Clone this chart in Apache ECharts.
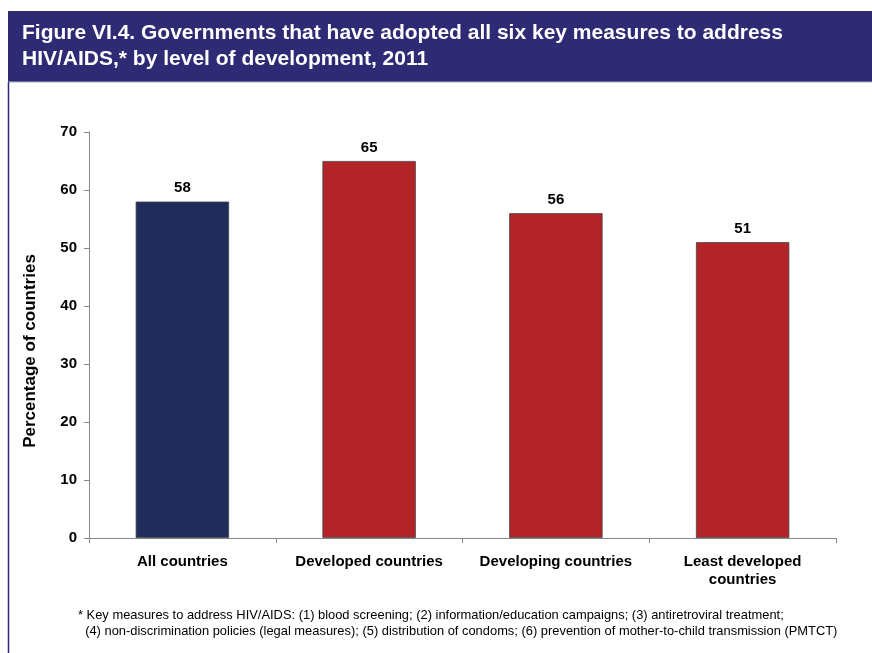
<!DOCTYPE html>
<html>
<head>
<meta charset="utf-8">
<script src="https://cdn.jsdelivr.net/npm/echarts@6/dist/echarts.min.js"></script>
<style>
  html, body { margin: 0; padding: 0; background: #fff; }
  #chart { width: 872px; height: 653px; }
</style>
</head>
<body>
<div id="chart"></div>
<script>
// Categories and shares of governments adopting all six measures (%)
const categories = ['All countries', 'Developed countries', 'Developing countries', 'Least developed\ncountries'];
const values = [58, 65, 56, 51];
const barColors = ['#202C5C', '#B32428', '#B32428', '#B32428'];
const yTicks = { min: 0, max: 70, interval: 10 };

const titleText = 'Figure VI.4. Governments that have adopted all six key measures to address\nHIV/AIDS,* by level of development, 2011';
const yAxisTitle = 'Percentage of countries';
const noteText = '* Key measures to address HIV/AIDS: (1) blood screening; (2) information/education campaigns; (3) antiretroviral treatment;\n  (4) non-discrimination policies (legal measures); (5) distribution of condoms; (6) prevention of mother-to-child transmission (PMTCT)';

const FONT = '"Liberation Sans", Arial, sans-serif';

const chart = echarts.init(document.getElementById('chart'), null, { renderer: 'canvas' });
chart.setOption({
  animation: false,
  backgroundColor: '#ffffff',
  graphic: [
    // navy header band
    { type: 'rect', shape: { x: 8, y: 11, width: 870, height: 71 }, style: { fill: '#2E2A73' }, z: 0 },
    { type: 'line', shape: { x1: 8, y1: 82, x2: 872, y2: 82 }, style: { stroke: '#A9AECB', lineWidth: 1 }, z: 1 },
    // left frame edge
    { type: 'line', shape: { x1: 8.5, y1: 82, x2: 8.5, y2: 653 }, style: { stroke: '#2E2A73', lineWidth: 1.5 }, z: 1 },
    {
      type: 'text', left: 22, top: 20, z: 2,
      style: { text: titleText, fill: '#ffffff', font: 'bold 21px ' + FONT, lineHeight: 26 }
    },
    // rotated value-axis title
    {
      type: 'text', x: 30, y: 351, rotation: Math.PI / 2, z: 2,
      style: {
        text: yAxisTitle, fill: '#000', font: 'bold 17px ' + FONT,
        align: 'center', verticalAlign: 'middle'
      }
    },
    {
      type: 'text', left: 78, top: 607, z: 2,
      style: { text: noteText, fill: '#000000', font: '12.9px ' + FONT, lineHeight: 16 }
    }
  ],
  grid: { left: 89, right: 36, top: 132, bottom: 115, containLabel: false },
  xAxis: {
    type: 'category',
    data: categories,
    axisLine: { lineStyle: { color: '#888888', width: 1 } },
    axisTick: { show: true, length: 5, alignWithLabel: false, lineStyle: { color: '#888888' } },
    axisLabel: {
      color: '#000', fontFamily: FONT, fontWeight: 'bold', fontSize: 15,
      margin: 15, lineHeight: 18, interval: 0
    },
    splitLine: { show: false }
  },
  yAxis: {
    type: 'value',
    min: yTicks.min, max: yTicks.max, interval: yTicks.interval,
    axisLine: { show: true, lineStyle: { color: '#888888', width: 1 } },
    axisTick: { show: true, length: 5, inside: false, lineStyle: { color: '#888888' } },
    axisLabel: { color: '#000', fontFamily: FONT, fontWeight: 'bold', fontSize: 15, margin: 12 },
    splitLine: { show: false }
  },
  series: [{
    type: 'bar',
    barCategoryGap: '50%',
    data: values.map((v, i) => ({
      value: v,
      itemStyle: { color: barColors[i], borderColor: '#444444', borderWidth: 0.8 }
    })),
    label: {
      show: true, position: 'top', distance: 6,
      color: '#000', fontFamily: FONT, fontWeight: 'bold', fontSize: 15
    }
  }]
});
</script>
</body>
</html>
